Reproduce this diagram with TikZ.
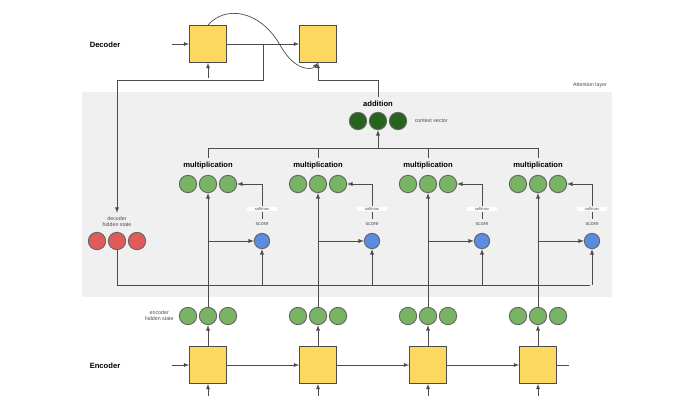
\documentclass[tikz,border=0pt]{standalone}
\usepackage{fontspec}
\setmainfont{Liberation Sans}
\usetikzlibrary{arrows, positioning}
\definecolor{cellfill}{RGB}{253,216,96}
\definecolor{encgreen}{RGB}{120,180,100}
\definecolor{ctxgreen}{RGB}{40,100,30}
\definecolor{decred}{RGB}{225,90,90}
\definecolor{scoreblue}{RGB}{90,140,225}
\begin{document}
\begin{tikzpicture}[x=0.3mm,y=-0.3mm,>=latex,thick]
    \tikzstyle{cell}=[draw=black!70,fill=cellfill,minimum size=11mm,inner sep=0pt]
    \tikzstyle{unit}=[circle,draw=black!60,minimum size=5.2mm,inner sep=0pt]
    \tikzstyle{title}=[font=\bfseries\fontsize{6.5}{7}\selectfont]
    \tikzstyle{small}=[font=\fontsize{4.5}{5}\selectfont,text=black!70,align=center]
    \tikzstyle{link}=[draw=black!70,semithick]

    \useasboundingbox (0,0) rectangle (684,417);
    \fill[black!6] (82,92) rectangle (612,297);
    \node[small] at (590,85) {Attention layer};

    % decoder
    \node[title] (dec) at (105,45) {Decoder};
    \node[cell] (D1) at (208,44) {};
    \node[cell] (D2) at (318,44) {};
    \coordinate (din) at (172,44);
    \coordinate (dbelow) at (208,78);
    \path[link,->] (din) -- (D1);
    \path[link,->] (dbelow) -- (D1);
    \path[link,->] (D1) -- (D2);
    \path[link,->] (D1.north) .. controls (225,5) and (260,10) .. (280,45)
        .. controls (295,72) and (312,70) .. (D2.south);

    % context vector
    \node[title] (add) at (378,104) {addition};
    \foreach \i/\x in {1/358,2/378,3/398}
        \node[unit,fill=ctxgreen] (C\i) at (\x,121) {};
    \node[small,right=1mm of C3] {context vector};
    \path[link,->] (add.north) |- (318,80) -- (D2.south);

    % decoder hidden state
    \node[small] (dlab) at (117,222) {decoder\\hidden state};
    \foreach \i/\x in {1/97,2/117,3/137}
        \node[unit,fill=decred] (R\i) at (\x,241) {};
    \path[link,->] (D1.east) -| (263,80) -| (dlab.north);
    \path[link] (R2.south) |- (590,285);

    % bracket
    \path[link] (208,158) |- (538,148) -- (538,158);
    \path[link] (318,148) -- (318,158);
    \path[link] (428,148) -- (428,158);
    \path[link,->] (378,148) -- (C2.south);

    % encoder
    \node[title] (enc) at (105,366) {Encoder};
    \node[small,anchor=east] (elab) at (178,316) {encoder\\hidden state};
    \coordinate (ein) at (172,365);
    \foreach \k/\x in {1/208,2/318,3/428,4/538}{
        \node[cell] (E\k) at (\x,365) {};
        \foreach \i/\d in {1/-20,2/0,3/20}
            \node[unit,fill=encgreen] (H\k\i) at (\x+\d,316) {};
        \coordinate (ebelow\k) at (\x,396);
        \path[link,->] (ebelow\k) -- (E\k);
        \path[link,->] (E\k) -- (H\k2);
        % attention block
        \node[title] (M\k) at (\x,166) {multiplication};
        \foreach \i/\d in {1/-20,2/0,3/20}
            \node[unit,fill=encgreen] (G\k\i) at (\x+\d,184) {};
        \node[unit,fill=scoreblue,minimum size=4.6mm] (S\k) at (\x+54,241) {};
        \node[small,above=0.8mm of S\k] (sl\k) {score};
        \node[fill=white,font=\fontsize{3.5}{4}\selectfont,text=black!70,minimum width=9mm,inner sep=0.6pt]
            (sm\k) at (\x+54,209) {softmax};
        \path[link] (sl\k) -- (sm\k);
        \path[link,->] (sm\k.north) |- (G\k3.east);
        \path[link,->] (H\k2.north) -- (G\k2.south);
        \path[link,->] (\x,241) -- (S\k);
        \path[link,->] (\x+54,285) -- (S\k);
    }
    \path[link,->] (ein) -- (E1);
    \path[link,->] (E1) -- (E2);
    \path[link,->] (E2) -- (E3);
    \path[link,->] (E3) -- (E4);
    \path[link] (E4.east) -- ++(12,0);
\end{tikzpicture}
\end{document}
